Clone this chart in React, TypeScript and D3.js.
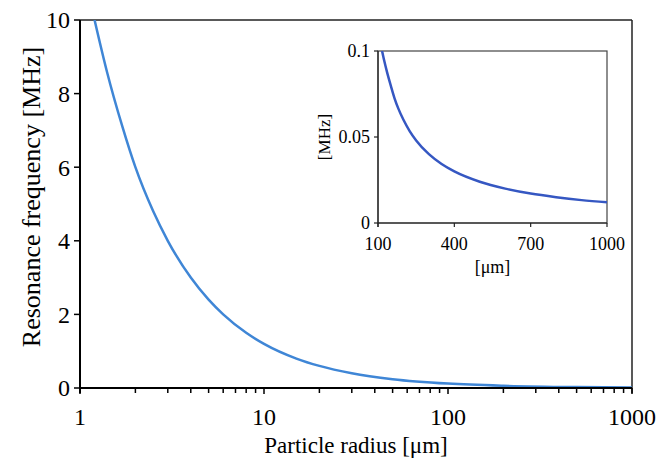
import React from "react";
import * as d3 from "d3";

// main curve
const radius = [1.2, 1.4, 1.7, 2, 2.5, 3, 4, 5, 6, 8, 10, 15, 20, 30, 50, 100, 200, 500, 1000];
const freq = [10, 8.6, 7.1, 6.0, 4.8, 4.0, 3.0, 2.4, 2.0, 1.5, 1.2, 0.8, 0.6, 0.4, 0.24, 0.12, 0.06, 0.024, 0.012];

// inset (linear zoom on the large particles)
const insetRadius = [116, 125, 135, 150, 165, 180, 200, 225, 250, 300, 350, 400, 500, 600, 700, 800, 900, 1000];
const insetFreq = [0.1, 0.094, 0.088, 0.08, 0.0725, 0.0665, 0.06, 0.0533, 0.048, 0.04, 0.0343, 0.03, 0.024, 0.02, 0.0171, 0.015, 0.0133, 0.012];

const yTicks = [0, 2, 4, 6, 8, 10];
const xMajor = [1, 10, 100, 1000];
const insetYTicks = [0, 0.05, 0.1];
const insetXTicks = [100, 400, 700, 1000];

const W = 657, H = 465;
const font = {fontFamily: '"Liberation Serif", "Times New Roman", serif'};

export default function App() {
  const m = {left: 80, right: 632, top: 20, bottom: 388};
  const x = d3.scaleLog().domain([1, 1000]).range([m.left, m.right]);
  const y = d3.scaleLinear().domain([0, 10]).range([m.bottom, m.top]);

  const xMinor: number[] = [];
  [1, 10, 100].forEach(d => { for (let k = 2; k <= 9; k++) xMinor.push(d * k); });

  const line = d3.line<number>()
    .x((_, i) => x(radius[i]))
    .y(d => y(d))
    .curve(d3.curveMonotoneX);

  const ins = {left: 378, right: 607, top: 51, bottom: 223};
  const ix = d3.scaleLinear().domain([100, 1000]).range([ins.left, ins.right]);
  const iy = d3.scaleLinear().domain([0, 0.1]).range([ins.bottom, ins.top]);
  const insetLine = d3.line<number>()
    .x((_, i) => ix(insetRadius[i]))
    .y(d => iy(d))
    .curve(d3.curveMonotoneX);

  return (
    <svg width={W} height={H} style={{position: "absolute", left: 0, top: 0, background: "#fff"}}>
      <defs>
        <clipPath id="mainClip"><rect x={m.left} y={m.top} width={m.right - m.left} height={m.bottom - m.top} /></clipPath>
        <clipPath id="insetClip"><rect x={ins.left} y={ins.top} width={ins.right - ins.left} height={ins.bottom - ins.top} /></clipPath>
      </defs>

      {/* main frame */}
      <line x1={m.left} x2={m.right} y1={m.top} y2={m.top} stroke="#222" strokeWidth={1.5} />
      <line x1={m.right} x2={m.right} y1={m.top} y2={m.bottom + 5} stroke="#222" strokeWidth={1.5} />

      <path d={line(freq) || ""} fill="none" stroke="#3f86d6" strokeWidth={2.5} clipPath="url(#mainClip)" />

      <line x1={m.left} x2={m.left} y1={m.top} y2={m.bottom + 5} stroke="#000" strokeWidth={2} />
      <line x1={m.left} x2={m.right} y1={m.bottom} y2={m.bottom} stroke="#000" strokeWidth={2} />

      {yTicks.map(t => (
        <g key={"y" + t}>
          <line x1={m.left - 6} x2={m.left} y1={y(t)} y2={y(t)} stroke="#000" strokeWidth={1.5} />
          <text x={m.left - 10} y={y(t)} dy="0.35em" textAnchor="end" fontSize={24} style={font}>{t}</text>
        </g>
      ))}
      {xMinor.map(t => (
        <line key={"m" + t} x1={x(t)} x2={x(t)} y1={m.bottom} y2={m.bottom + 5} stroke="#000" strokeWidth={1.5} />
      ))}
      {xMajor.map(t => (
        <g key={"x" + t}>
          <line x1={x(t)} x2={x(t)} y1={m.bottom} y2={m.bottom + 6} stroke="#000" strokeWidth={1.5} />
          <text x={x(t)} y={425} textAnchor="middle" fontSize={24} style={font}>{t}</text>
        </g>
      ))}

      <text x={356} y={453} textAnchor="middle" fontSize={23} style={font}>Particle radius [μm]</text>
      <text transform="translate(40,197) rotate(-90)" textAnchor="middle" fontSize={26} style={font}>Resonance frequency [MHz]</text>

      {/* inset */}
      <rect x={ins.left} y={ins.top} width={ins.right - ins.left} height={ins.bottom - ins.top} fill="#fff" stroke="#444" strokeWidth={1.2} />
      <path d={insetLine(insetFreq) || ""} fill="none" stroke="#3557c2" strokeWidth={2.5} clipPath="url(#insetClip)" />
      <line x1={ins.left} x2={ins.left} y1={ins.top} y2={ins.bottom + 4} stroke="#222" strokeWidth={1.2} />
      <line x1={ins.left} x2={ins.right} y1={ins.bottom} y2={ins.bottom} stroke="#222" strokeWidth={1.2} />
      {insetYTicks.map(t => (
        <g key={"iy" + t}>
          <line x1={ins.left - 4} x2={ins.left} y1={iy(t)} y2={iy(t)} stroke="#222" strokeWidth={1.2} />
          <text x={ins.left - 8} y={iy(t)} dy="0.35em" textAnchor="end" fontSize={18} style={font}>{t}</text>
        </g>
      ))}
      {insetXTicks.map(t => (
        <g key={"ix" + t}>
          <line x1={ix(t)} x2={ix(t)} y1={ins.bottom} y2={ins.bottom + 4} stroke="#222" strokeWidth={1.2} />
          <text x={ix(t)} y={250} textAnchor="middle" fontSize={18} style={font}>{t}</text>
        </g>
      ))}
      <text x={(ins.left + ins.right) / 2} y={273} textAnchor="middle" fontSize={18} style={font}>[μm]</text>
      <text transform={`translate(330,${(ins.top + ins.bottom) / 2}) rotate(-90)`} textAnchor="middle" fontSize={17} style={font}>[MHz]</text>
    </svg>
  );
}
